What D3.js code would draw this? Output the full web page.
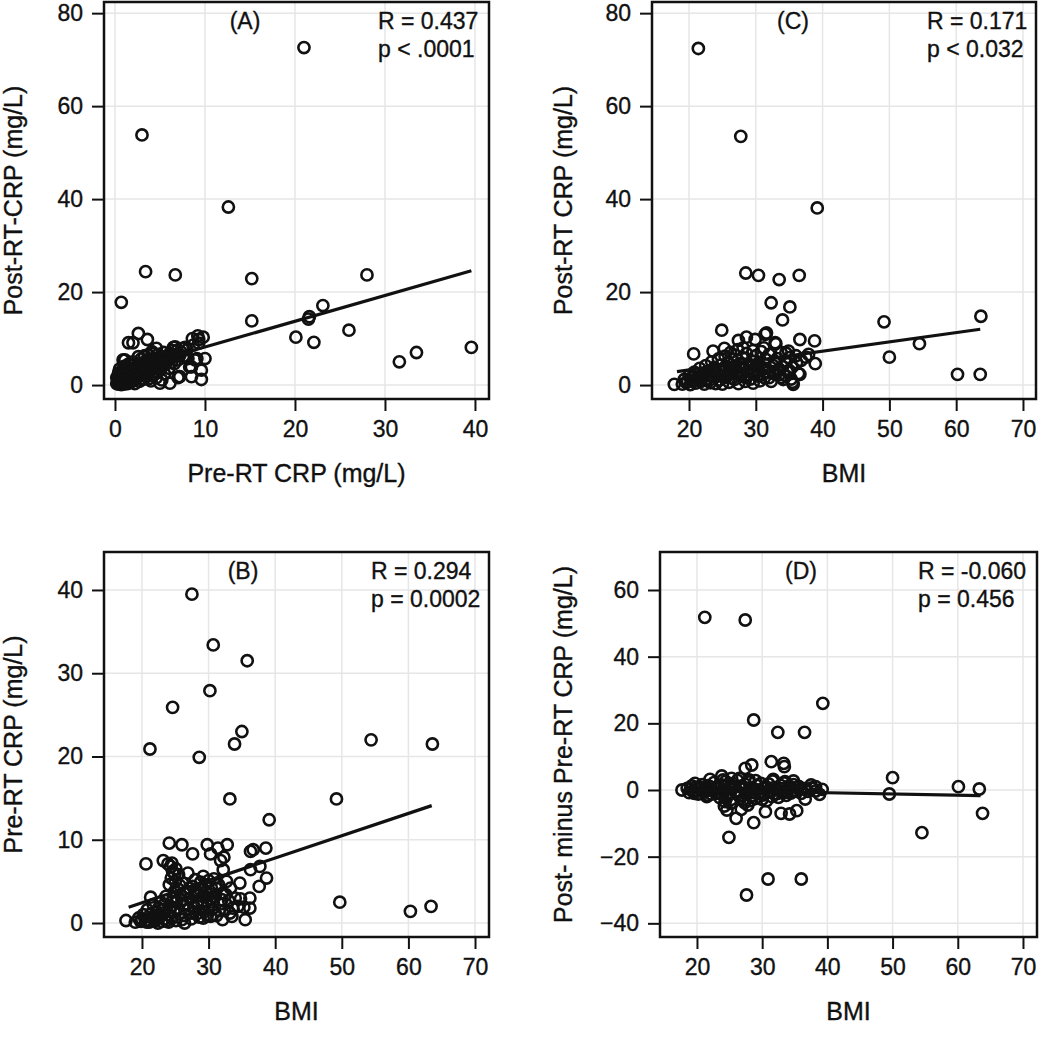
<!DOCTYPE html>
<html>
<head>
<meta charset="utf-8">
<script src="https://cdn.jsdelivr.net/npm/d3@7"></script>
<style>
body { margin: 0; background: #fff; }
svg text { font-family: "Liberation Sans", Arial, sans-serif; fill: #111; stroke: #111; stroke-width: 0.35px; }
</style>
</head>
<body>
<div id="chart"></div>
<script>
// ---- data ----

// (A) pre-RT CRP vs post-RT CRP
var pointsA = [
  [21.0,72.6],[3.0,53.8],[12.6,38.3],[3.4,24.4],[6.7,23.7],[15.2,22.9],[28.0,23.7],[0.7,17.8],
  [15.2,13.8],[21.6,14.7],[21.5,14.2],[23.1,17.1],[20.1,10.3],[22.1,9.2],[26.0,11.8],[31.6,5.0],
  [33.5,7.0],[39.6,8.1],
  [2.6,11.1],[1.5,9.1],[2.0,9.1],[3.6,9.8],[0.9,5.4],[8.6,10.0],[9.3,9.8],[9.8,10.3],[9.2,10.6],
  [10.0,5.7],[9.1,5.7],[8.5,3.9],[9.6,3.2],[9.6,1.2],[8.5,1.8],[7.1,1.8],[6.1,0.4],[5.0,0.4],
  [6.5,8.1],[4.6,7.9],[4.1,7.2],[7.8,8.1],[6.7,8.2],[8.7,8.6],[9.3,9.0],[8.1,5.7],[8.9,5.4],
  [3.7,6.5],[2.6,6.1],[1.1,5.4],[7.2,1.8],[5.2,1.1],[8.3,3.9],[7.0,1.6],
  [0.2,0.3],[0.3,1.0],[0.4,0.2],[0.5,1.8],[0.5,0.6],[0.6,2.2],[0.7,0.1],[0.8,1.2],[0.9,0.5],
  [1.0,2.6],[1.0,0.2],[1.1,1.5],[1.2,3.3],[1.2,0.8],[1.3,2.0],[1.4,0.3],[1.5,4.5],[1.5,1.2],
  [1.6,2.8],[1.7,0.6],[1.8,3.6],[1.9,1.9],[2.0,0.9],[2.0,5.0],[2.1,2.4],[2.2,0.3],[2.3,3.1],
  [2.4,1.5],[2.5,4.2],[2.6,2.0],[2.7,0.8],[2.8,3.5],[2.9,5.6],[3.0,2.6],[3.1,1.2],[3.2,4.0],
  [3.3,6.3],[3.4,3.0],[3.5,1.8],[3.6,4.8],[3.7,2.4],[3.8,5.5],[3.9,3.6],[4.0,0.9],[4.1,4.4],
  [4.2,6.8],[4.3,2.9],[4.4,5.2],[4.5,3.8],[4.6,1.6],[4.8,4.6],[4.9,6.0],[5.0,3.2],[5.1,5.4],
  [5.3,4.2],[5.4,7.0],[5.5,2.4],[5.7,5.0],[5.9,6.3],[6.0,3.6],[6.2,5.8],[6.4,7.4],[6.6,4.6],
  [6.8,6.6],[7.0,5.4],[7.3,7.2],[7.6,6.2],[8.0,7.6],
  [0.3,0.5],[0.6,1.4],[0.8,2.9],[1.1,0.4],[1.3,3.8],[1.6,1.0],[1.8,2.4],[2.1,4.4],[2.2,1.6],
  [2.4,2.9],[2.6,3.8],[2.8,1.3],[3.0,4.6],[3.2,2.1],[3.4,5.1],[3.6,3.3],[3.8,1.4],[4.0,3.9],
  [4.2,5.6],[4.4,2.3],[4.6,4.9],[4.8,6.6],[5.0,5.2],[5.2,3.8],[5.4,6.0],[5.6,4.4],[5.8,5.6],
  [6.1,6.8],[6.3,4.9],[6.6,6.1],[6.9,7.4],[7.2,6.4],[7.5,7.9],[0.2,1.6],[0.4,2.6],[0.5,3.4],
  [1.0,4.0],[0.7,0.9]
];

// (B) BMI vs pre-RT CRP
var pointsB = [
  [27.5,39.5],[30.7,33.4],[35.8,31.5],[30.2,27.9],[24.6,25.9],[35.0,23.0],[33.9,21.5],[21.2,20.9],
  [28.6,19.9],[54.4,22.0],[63.6,21.5],[33.2,14.9],[49.2,14.9],[39.1,12.4],[49.7,2.5],[60.3,1.4],
  [63.4,2.0],
  [20.6,7.1],[24.1,9.6],[26.0,9.4],[27.6,8.3],[29.8,9.4],[30.3,8.3],[31.4,9.0],[32.8,9.4],
  [32.3,7.9],[31.8,7.5],[36.3,8.6],[36.7,8.8],[38.6,9.0],[23.2,7.5],[23.9,7.1],[32.2,6.4],
  [37.7,6.8],[36.3,6.4],[38.7,5.4],[37.6,4.4],[34.7,4.8],[36.2,3.0],[36.2,1.8],[35.5,0.4],
  [33.5,0.8],[32.1,0.4],[21.3,3.1],[17.6,0.3],[26.4,0.0],[29.2,0.6],[30.3,0.8],
  [19.0,0.1],[19.5,0.6],[19.8,0.2],[20.2,1.0],[20.5,0.3],[20.8,1.6],[21.1,0.1],[21.4,0.7],
  [21.7,2.2],[22.0,0.3],[22.2,1.3],[22.4,0.0],[22.6,0.8],[22.8,2.5],[23.0,0.2],[23.2,1.6],
  [23.4,0.5],[23.6,3.2],[23.8,1.0],[24.0,0.1],[24.1,4.6],[24.3,2.0],[24.4,5.4],[24.5,0.6],
  [24.6,6.2],[24.7,3.1],[24.8,1.4],[25.0,5.0],[25.1,0.3],[25.2,2.5],[25.4,4.1],[25.5,5.8],
  [25.6,1.1],[25.8,3.4],[26.0,0.4],[26.1,4.8],[26.3,2.2],[26.5,0.9],[26.7,3.8],[26.9,6.0],
  [27.0,1.6],[27.2,2.9],[27.4,0.5],[27.6,4.4],[27.8,2.0],[28.0,5.2],[28.2,1.1],[28.4,3.3],
  [28.6,0.7],[28.8,4.9],[29.0,2.4],[29.2,5.6],[29.4,1.4],[29.6,3.7],[29.8,0.9],[30.0,5.1],
  [30.2,2.8],[30.4,4.3],[30.6,1.7],[30.8,5.3],[31.0,3.2],[31.2,0.9],[31.5,4.6],[31.8,2.3],
  [32.1,3.6],[32.4,1.5],[32.7,5.0],[33.0,2.7],[33.3,4.2],[33.6,1.8],[34.0,3.0],[34.4,2.0],
  [34.8,2.9],[35.3,1.9],
  [20.0,0.4],[20.7,0.1],[21.3,1.1],[21.9,0.5],[22.5,1.8],[22.9,0.9],[23.3,2.2],[23.7,0.3],
  [24.2,1.5],[24.6,2.6],[24.9,3.8],[25.3,1.8],[25.7,4.5],[26.0,2.8],[26.4,3.6],[26.8,2.3],
  [27.1,4.2],[27.5,1.2],[27.9,3.6],[28.3,2.6],[28.7,4.0],[29.1,3.2],[29.5,4.6],[29.9,2.0],
  [30.3,3.5],[30.7,2.5],[31.1,4.2],[31.6,1.5],[32.0,2.8],[32.6,3.4],[33.2,1.2],[24.3,6.8],
  [24.5,7.2],[25.1,6.5],[24.9,5.9]
];

// (C) BMI vs post-RT CRP
var pointsC = [
  [21.4,72.4],[27.75,53.5],[39.2,38.1],[28.5,24.1],[30.4,23.6],[33.5,22.7],[36.5,23.6],[32.3,17.7],
  [35.1,16.8],[34.0,14.0],[49.2,13.6],[63.7,14.8],[54.5,8.9],[50.0,6.0],[60.2,2.3],[63.6,2.3],
  [24.9,11.8],[31.4,10.9],[36.6,9.8],[38.8,9.5],[38.9,4.6],[20.7,6.7],[17.8,0.15],
  [27.4,9.6],[28.6,10.3],[29.9,9.8],[28.1,8.0],[23.6,7.3],[25.3,7.9],[33.0,8.9],[34.5,6.9],
  [37.9,6.6],[36.1,4.8],[36.4,2.5],[35.5,0.6],[35.3,1.3],[33.8,1.6],[31.6,11.2],[32.9,9.1],
  [34.9,7.3],[36.6,2.3],[35.6,0.15],
  [19.0,0.2],[19.3,1.2],[19.6,0.5],[20.0,2.0],[20.2,0.1],[20.5,1.0],[20.8,2.8],[21.0,0.4],
  [21.3,1.6],[21.6,3.6],[21.8,0.8],[22.0,2.3],[22.3,0.2],[22.5,4.2],[22.7,1.3],[23.0,3.0],
  [23.2,0.5],[23.4,5.0],[23.6,1.9],[23.8,3.8],[24.0,0.3],[24.2,2.7],[24.4,5.6],[24.6,1.1],
  [24.8,4.3],[25.0,0.2],[25.2,3.3],[25.4,6.2],[25.6,1.7],[25.8,4.8],[26.0,0.6],[26.2,2.5],
  [26.4,5.5],[26.6,3.9],[26.8,1.2],[27.0,6.4],[27.2,2.9],[27.4,0.3],[27.6,4.6],[27.8,1.9],
  [28.0,5.9],[28.2,3.4],[28.4,0.8],[28.6,6.8],[28.8,2.2],[29.0,4.4],[29.2,1.3],[29.4,5.2],
  [29.6,0.4],[29.8,3.3],[30.0,6.3],[30.2,2.0],[30.4,4.7],[30.6,0.9],[30.8,7.2],[31.0,3.7],
  [31.3,1.6],[31.5,5.5],[31.8,2.8],[32.0,6.6],[32.3,0.8],[32.6,4.2],[32.9,2.3],[33.2,5.7],
  [33.5,3.4],[33.8,7.0],[34.1,1.2],[34.4,4.9],[34.7,2.9],[35.0,5.9],[35.4,3.8],[36.0,6.3],
  [36.8,5.3],[37.5,6.0],
  [19.8,0.8],[20.4,1.6],[21.0,2.2],[21.5,0.9],[22.1,1.7],[22.6,2.8],[23.1,1.1],[23.6,3.3],
  [24.1,1.8],[24.6,3.0],[25.1,2.1],[25.5,4.0],[26.0,2.9],[26.5,1.5],[27.0,3.6],[27.5,2.4],
  [28.0,4.3],[28.5,1.6],[29.0,3.1],[29.5,2.6],[30.0,4.0],[30.5,3.0],[31.0,2.2],[31.5,3.6],
  [32.0,1.6],[32.5,2.9],[33.0,4.6],[33.5,2.2],[34.0,3.9],[34.5,2.0],[35.0,3.1],[26.2,7.0],
  [27.3,7.6],[29.6,7.4],[31.2,8.0]
];

// (D) BMI vs post- minus pre-RT CRP
var pointsD = [
  [21.2,51.8],[27.4,51.0],[39.3,26.0],[28.7,21.0],[32.4,17.3],[36.5,17.3],[31.4,8.5],[33.3,8.0],
  [33.4,7.0],[27.4,6.5],[28.4,7.5],[50.0,3.7],[60.1,1.0],[63.3,0.3],[49.5,-1.2],[63.8,-7.0],
  [54.5,-12.8],[28.7,-9.8],[26.0,-8.5],[24.9,-14.2],[30.9,-26.7],[36.0,-26.7],[27.6,-31.5],
  [32.9,-7.0],[34.2,-7.2],[35.3,-6.2],[30.5,-6.5],[24.6,-6.0],[27.8,-4.5],[26.8,-5.8],
  [36.6,-2.7],[38.8,-1.3],[21.5,-2.0],[23.8,4.2],[22.0,3.2],[19.7,2.0],[17.7,0.0],[25.3,3.5],
  [28.0,3.0],[33.5,2.5],[34.8,2.7],[37.5,1.5],[38.2,1.0],[39.2,0.2],[24.3,-3.5],[24.2,-4.8],
  [18.5,0.5],[18.8,-0.8],[19.2,1.2],[19.5,-0.3],[19.8,0.8],[20.2,-1.2],[20.5,0.2],[20.8,1.6],
  [21.1,-0.6],[21.4,0.7],[21.7,-1.6],[22.0,1.0],[22.3,-0.2],[22.6,2.2],[22.9,-1.0],[23.2,0.4],
  [23.5,-2.3],[23.8,1.5],[24.1,-0.5],[24.4,2.6],[24.7,-1.4],[25.0,0.6],[25.3,-2.8],[25.6,1.9],
  [25.9,-0.4],[26.2,2.9],[26.5,-1.8],[26.8,0.9],[27.1,-3.0],[27.4,1.7],[27.7,-0.7],[28.0,2.4],
  [28.3,-1.9],[28.6,0.3],[28.9,-2.6],[29.2,1.3],[29.5,-0.9],[29.8,2.0],[30.1,-1.5],[30.4,0.5],
  [30.7,-3.2],[31.0,1.8],[31.3,-0.6],[31.6,2.7],[31.9,-1.2],[32.2,0.2],[32.5,-2.2],[32.8,1.4],
  [33.1,-0.4],[33.4,2.1],[33.7,-1.6],[34.0,0.7],[34.4,-0.9],[34.8,1.6],[35.2,-0.2],[35.6,1.1],
  [36.0,-1.0],[36.5,0.4],[37.0,-0.4],[37.6,0.6],[38.2,-0.3],
  [19.0,0.2],[19.6,-1.0],[20.4,0.9],[21.0,-0.2],[21.6,1.3],[22.2,-1.2],[22.8,0.6],[23.4,1.0],
  [23.9,-1.3],[24.5,0.2],[25.1,-0.9],[25.7,0.8],[26.3,-0.5],[26.9,1.2],[27.5,-1.1],[28.1,0.6],
  [28.7,-0.8],[29.3,0.0],[29.9,-1.2],[30.5,1.0],[31.1,-0.5],[31.7,0.6],[32.3,-1.1],[32.9,0.4],
  [33.5,-0.7],[34.1,1.2],[34.7,-0.4],[35.4,0.6],[24.5,-2.5],[25.2,-4.0],[27.3,-3.8],[28.2,-3.2],
  [30.0,-2.8],[31.5,-2.0],[26.5,3.5],[29.0,2.8],[31.7,3.2],[24.0,3.0]
];

// fitted regression lines (start and end points as drawn)
var fitA = [[0.3,2.8],[39.6,24.6]];
var fitB = [[18.0,1.9],[63.5,14.1]];
var fitC = [[18.2,2.9],[63.6,12.0]];
var fitD = [[18.0,0.0],[63.5,-1.7]];

// tick values
var ticksCrpX = [0,10,20,30,40];
var ticksPostY = [0,20,40,60,80];
var ticksBmiX = [20,30,40,50,60,70];
var ticksPreY = [0,10,20,30,40];
var ticksDiffY = [-40,-20,0,20,40,60];

// labels
var panelTags = ["(A)","(B)","(C)","(D)"];
var statR = ["R = 0.437","R = 0.294","R = 0.171","R = -0.060"];
var statP = ["p < .0001","p = 0.0002","p < 0.032","p = 0.456"];
var xTitles = ["Pre-RT CRP (mg/L)","BMI","BMI","BMI"];
var yTitles = ["Post-RT-CRP (mg/L)","Pre-RT CRP (mg/L)","Post-RT CRP (mg/L)","Post- minus Pre-RT CRP (mg/L)"];

// ---- layout ----
var panels = [
  {points: pointsA, fit: fitA, xTicks: ticksCrpX, yTicks: ticksPostY,
   left: 104, right: 489, top: 2, bottom: 399, xDomain: [-1.22, 41.56], yDomain: [-3.0, 82.4],
   tagX: 245, statX: 378, yTitleX: 22},
  {points: pointsB, fit: fitB, xTicks: ticksBmiX, yTicks: ticksPreY,
   left: 104, right: 489, top: 552, bottom: 937, xDomain: [14.3, 72.1], yDomain: [-1.68, 44.56],
   tagX: 243, statX: 371, yTitleX: 22},
  {points: pointsC, fit: fitC, xTicks: ticksBmiX, yTicks: ticksPostY,
   left: 652, right: 1036, top: 2, bottom: 399, xDomain: [14.46, 71.95], yDomain: [-3.0, 82.4],
   tagX: 793, statX: 927, yTitleX: 572},
  {points: pointsD, fit: fitD, xTicks: ticksBmiX, yTicks: ticksDiffY,
   left: 660, right: 1037, top: 552, bottom: 937, xDomain: [14.33, 72.15], yDomain: [-44.1, 71.4],
   tagX: 801, statX: 918, yTitleX: 572}
];

var svg = d3.select("#chart")
    .append("svg")
    .attr("width", 1050)
    .attr("height", 1040)
    .style("background", "#fff");

panels.forEach(function(p, i) {
  var x = d3.scaleLinear().domain(p.xDomain).range([p.left, p.right]);
  var y = d3.scaleLinear().domain(p.yDomain).range([p.bottom, p.top]);
  var g = svg.append("g");

  // grid
  g.selectAll(".vgrid").data(p.xTicks).enter().append("line")
      .attr("x1", function(d) { return x(d); })
      .attr("x2", function(d) { return x(d); })
      .attr("y1", p.top).attr("y2", p.bottom)
      .style("stroke", "#e6e6e6").style("stroke-width", 1.5);
  g.selectAll(".hgrid").data(p.yTicks).enter().append("line")
      .attr("y1", function(d) { return y(d); })
      .attr("y2", function(d) { return y(d); })
      .attr("x1", p.left).attr("x2", p.right)
      .style("stroke", "#e6e6e6").style("stroke-width", 1.5);

  // axes
  var xAxis = g.append("g")
      .attr("transform", "translate(0," + p.bottom + ")")
      .call(d3.axisBottom(x).tickValues(p.xTicks).tickSize(12).tickPadding(10));
  var yAxis = g.append("g")
      .attr("transform", "translate(" + p.left + ",0)")
      .call(d3.axisLeft(y).tickValues(p.yTicks).tickSize(12).tickPadding(9));
  [xAxis, yAxis].forEach(function(a) {
    a.select(".domain").remove();
    a.selectAll("line").style("stroke", "#111").style("stroke-width", 2);
    a.selectAll("text")
        .attr("font-family", "Liberation Sans, Arial, sans-serif")
        .attr("font-size", 23)
        .style("fill", "#111");
  });

  // frame
  g.append("rect")
      .attr("x", p.left).attr("y", p.top)
      .attr("width", p.right - p.left).attr("height", p.bottom - p.top)
      .style("fill", "none").style("stroke", "#111").style("stroke-width", 2.5);

  // points
  g.selectAll(".pt").data(p.points).enter().append("circle")
      .attr("cx", function(d) { return x(d[0]); })
      .attr("cy", function(d) { return y(d[1]); })
      .attr("r", 5.6)
      .style("fill", "none")
      .style("stroke", "#111")
      .style("stroke-width", 2.6);

  // regression line
  g.append("path")
      .datum(p.fit)
      .attr("d", d3.line().x(function(d) { return x(d[0]); }).y(function(d) { return y(d[1]); }))
      .style("fill", "none").style("stroke", "#111").style("stroke-width", 3.2);

  // panel tag and statistics
  g.append("text").attr("x", p.tagX).attr("y", p.top + 27)
      .attr("text-anchor", "middle").attr("font-size", 23).text(panelTags[i]);
  g.append("text").attr("x", p.statX).attr("y", p.top + 27)
      .attr("font-size", 23).text(statR[i]);
  g.append("text").attr("x", p.statX).attr("y", p.top + 55)
      .attr("font-size", 23).text(statP[i]);

  // axis titles
  g.append("text")
      .attr("x", (p.left + p.right) / 2)
      .attr("y", p.bottom + 83)
      .attr("text-anchor", "middle")
      .attr("font-size", 25)
      .text(xTitles[i]);
  g.append("text")
      .attr("transform", "translate(" + p.yTitleX + "," + ((p.top + p.bottom) / 2) + ") rotate(-90)")
      .attr("text-anchor", "middle")
      .attr("font-size", 25)
      .text(yTitles[i]);
});
</script>
</body>
</html>
